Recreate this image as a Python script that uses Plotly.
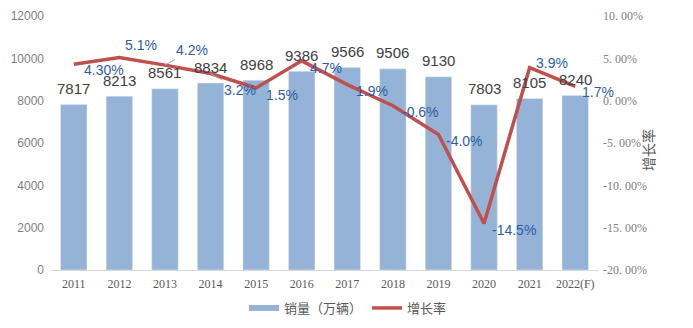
import plotly.graph_objects as go

years = ["2011", "2012", "2013", "2014", "2015", "2016", "2017", "2018", "2019", "2020", "2021", "2022(F)"]
sales = [7817, 8213, 8561, 8834, 8968, 9386, 9566, 9506, 9130, 7803, 8105, 8240]
growth = [4.3, 5.1, 4.2, 3.2, 1.5, 4.7, 1.9, -0.6, -4.0, -14.5, 3.9, 1.7]
growth_labels = ["4.30%", "5.1%", "4.2%", "3.2%", "1.5%", "4.7%", "1.9%", "-0.6%", "-4.0%", "-14.5%", "3.9%", "1.7%"]
right_tickvals = [-20, -15, -10, -5, 0, 5, 10]
right_ticktext = ["-20. 00%", "-15. 00%", "-10. 00%", "-5. 00%", "0. 00%", "5. 00%", "10. 00%"]

# label offsets in pixels (layout only)
label_dx = [30, 22, 27, 29, 26, 24, 25, 28, 26, 30, 22, 23]
label_dy = [6, -12, -15, 16, 7, 7, 6, 6, 6, 7, -5, 6]
leader = [False, False, True, True, False, False, False, False, False, False, False, False]

BAR = "#95B3D7"
LINE = "#C0504D"
BLUE = "#2E5D9F"

fig = go.Figure()
fig.add_trace(go.Bar(x=years, y=sales, marker_color=BAR, width=0.58, showlegend=False, name="销量（万辆）"))
fig.add_trace(go.Scatter(x=years, y=[None] * len(years), mode="lines", line=dict(color=BAR, width=6),
                         name="销量（万辆）", hoverinfo="skip"))
fig.add_trace(go.Scatter(x=years, y=growth, mode="lines", line=dict(color=LINE, width=3.5), name="增长率", yaxis="y2"))

ann = []
# category axis: annotation x given as category index
for i, v in enumerate(sales):
    ann.append(dict(x=i, y=v, xref="x", yref="y", text=str(v), showarrow=False, yshift=16,
                    font=dict(family="Liberation Sans, Arial", size=15, color="#404040")))
for i, (g, t, dx, dy, ld) in enumerate(zip(growth, growth_labels, label_dx, label_dy, leader)):
    if ld:
        ann.append(dict(x=i, y=g, xref="x", yref="y2", text=t, showarrow=True, arrowhead=0,
                        arrowwidth=1, arrowcolor="#A6A6A6", ax=dx, ay=dy, standoff=0,
                        font=dict(family="Liberation Sans, Arial", size=14, color=BLUE)))
    else:
        ann.append(dict(x=i, y=g, xref="x", yref="y2", text=t, showarrow=False, xshift=dx, yshift=-dy,
                        font=dict(family="Liberation Sans, Arial", size=14, color=BLUE)))
ann.append(dict(x=1.113, y=0.472, xref="paper", yref="paper", text="增长率", textangle=-90, showarrow=False,
                font=dict(family="Noto Sans CJK SC", size=14, color="#595959")))

fig.update_layout(
    width=693, height=328,
    margin=dict(l=51, r=95, t=16, b=58, autoexpand=False),
    paper_bgcolor="white", plot_bgcolor="white",
    bargap=0.42,
    xaxis=dict(type="category", categoryorder="array", categoryarray=years, range=[-0.5, len(years) - 0.5],
               showline=True, linecolor="#D9D9D9", linewidth=1, ticks="", ticklabelstandoff=3,
               tickfont=dict(family="Liberation Serif", size=12, color="#595959"), showgrid=False),
    yaxis=dict(range=[0, 12000], dtick=2000, tickformat="d", showgrid=False, zeroline=False, showline=False,
               ticklabelstandoff=6,
               tickfont=dict(family="Liberation Sans, Arial", size=12, color="#808080")),
    yaxis2=dict(overlaying="y", side="right", range=[-20, 10], tickvals=right_tickvals, ticktext=right_ticktext,
                showgrid=False, zeroline=False, showline=False, ticklabelstandoff=4,
                tickfont=dict(family="Liberation Serif", size=12, color="#808080")),
    legend=dict(orientation="h", x=0.543, xanchor="center", yref="container", y=0.061, yanchor="middle",
                font=dict(family="Noto Sans CJK SC", size=13, color="#595959"), bgcolor="rgba(0,0,0,0)"),
    annotations=ann,
)

fig.write_html("out.html")
